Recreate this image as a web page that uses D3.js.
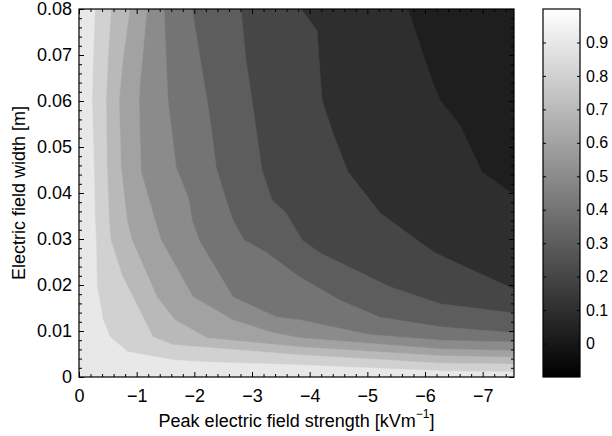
<!DOCTYPE html>
<html><head><meta charset="utf-8">
<script src="https://cdn.jsdelivr.net/npm/d3@7"></script>
<style>
body{margin:0;background:#fff;}
text{font-family:"Liberation Sans",Arial,Helvetica,sans-serif;fill:#000;}
</style>
</head><body>
<svg id="chart" width="612" height="436"></svg>
<script>
// ---- data (field strength in kV/m, width in m) ----
const levels = [0.1, 0.2, 0.3, 0.4, 0.5, 0.6, 0.7, 0.8, 0.9];
const dataMin = 0.03;
const xTicks = [0, -1, -2, -3, -4, -5, -6, -7];
const yTicks = [0, 0.01, 0.02, 0.03, 0.04, 0.05, 0.06, 0.07, 0.08];
const cbTicks = [0, 0.1, 0.2, 0.3, 0.4, 0.5, 0.6, 0.7, 0.8, 0.9];

// contour lines [field strength, width], each from top edge to right edge
const c010 = [[-5.705,0.08],[-6.138,0.0639],[-6.26,0.0602],[-6.607,0.0548],[-6.988,0.0446],[-7.543,0.0396]];
const c020 = [[-3.85,0.08],[-4.127,0.0754],[-4.214,0.0602],[-4.404,0.053],[-4.664,0.0446],[-5.219,0.0357],[-5.861,0.0298],[-6.173,0.027],[-7.543,0.0191]];
const c030 = [[-2.809,0.08],[-2.896,0.0689],[-3.0,0.0602],[-3.173,0.045],[-3.347,0.0385],[-3.589,0.0357],[-3.867,0.0298],[-4.179,0.027],[-5.393,0.0196],[-6.26,0.0159],[-7.543,0.0139]];
const c040 = [[-1.959,0.08],[-2.22,0.0602],[-2.306,0.053],[-2.376,0.0457],[-2.549,0.0385],[-2.67,0.0341],[-2.861,0.0298],[-3.26,0.027],[-3.832,0.0217],[-4.526,0.0167],[-5.219,0.013],[-6.26,0.0109],[-7.543,0.0096]];
const c050 = [[-1.474,0.08],[-1.543,0.0602],[-1.682,0.0457],[-1.907,0.0385],[-1.959,0.0341],[-2.081,0.0298],[-2.67,0.0174],[-3.433,0.013],[-3.832,0.0124],[-5.046,0.0092],[-6.26,0.008],[-7.543,0.0076]];
const c060 = [[-1.179,0.08],[-1.058,0.0639],[-1.04,0.0602],[-1.075,0.0446],[-1.318,0.0341],[-1.422,0.0298],[-1.977,0.0174],[-2.67,0.0124],[-3.364,0.0096],[-3.832,0.0085],[-6.26,0.0061],[-7.543,0.0057]];
const c070 = [[-0.879,0.08],[-0.76,0.0689],[-0.694,0.0602],[-0.728,0.0457],[-0.832,0.0341],[-0.919,0.0298],[-1.352,0.0174],[-1.665,0.0124],[-2.22,0.0085],[-3.832,0.0065],[-6.26,0.0046],[-7.543,0.0043]];
const c080 = [[-0.555,0.08],[-0.5,0.0689],[-0.468,0.0602],[-0.486,0.0457],[-0.52,0.0341],[-0.55,0.0298],[-0.75,0.022],[-0.936,0.0174],[-1.283,0.0087],[-1.63,0.007],[-3.832,0.0048],[-6.26,0.003],[-7.543,0.0028]];
const c090 = [[-0.277,0.08],[-0.243,0.0689],[-0.225,0.0602],[-0.26,0.045],[-0.277,0.0341],[-0.295,0.0298],[-0.312,0.0196],[-0.416,0.0124],[-0.538,0.0087],[-0.84,0.0055],[-1.63,0.0037],[-2.08,0.0033],[-3.832,0.0026],[-6.26,0.0013],[-7.543,0.0011]];
const contourLines = [c010, c020, c030, c040, c050, c060, c070, c080, c090];

const xDomain = [0, -7.543];
const yDomain = [0, 0.08];
const cDomain = [-0.1, 1.0];

// ---- layout ----
const L = 79, R = 514, T = 9, B = 377;
const svg = d3.select("#chart");
const x = d3.scaleLinear().domain(xDomain).range([L, R]);
const y = d3.scaleLinear().domain(yDomain).range([B, T]);
const gray = d3.scaleLinear().domain(cDomain).range(["#000000", "#ffffff"]);

svg.append("clipPath").attr("id", "plotclip").append("rect")
  .attr("x", L).attr("y", T).attr("width", R - L).attr("height", B - T);

const plot = svg.append("g").attr("clip-path", "url(#plotclip)");
plot.append("rect").attr("x", L).attr("y", T).attr("width", R - L).attr("height", B - T)
  .attr("fill", gray(dataMin));

const line = d3.line().x(d => x(d[0])).y(d => y(d[1]));
contourLines.forEach((c, i) => {
  const poly = [[0, yDomain[1]], ...c, [xDomain[1], 0], [0, 0]];
  plot.append("path").attr("d", line(poly) + "Z")
    .attr("fill", gray(levels[i])).attr("stroke", gray(levels[i])).attr("stroke-width", 0.5);
});

// ---- axes ----
const xMinor = d3.range(0, 38).map(i => -i * 0.2).filter(v => v >= -7.54 && Math.abs(v - Math.round(v)) > 1e-6);
const yMinor = d3.range(0, 41).map(i => i * 0.002).filter(v => Math.abs(v * 100 - Math.round(v * 100)) > 1e-6);

function styleAxis(g) {
  g.select(".domain").remove();
  g.selectAll("line").attr("stroke", "#000").attr("stroke-width", 1);
  g.selectAll("text").style("font-size", "18px").attr("fill", "#000");
}
const fmtX = d => d === 0 ? "0" : "\u2212" + Math.abs(d);
const fmtY = d => d === 0 ? "0" : d3.format(".2f")(d);

svg.append("g").attr("transform", `translate(0,${B})`)
  .call(d3.axisBottom(x).tickValues(xTicks).tickFormat(fmtX).tickSize(-5).tickPadding(12)).call(styleAxis);
svg.append("g").attr("transform", `translate(0,${B})`)
  .call(d3.axisBottom(x).tickValues(xMinor).tickFormat("").tickSize(-3)).call(styleAxis);
svg.append("g").attr("transform", `translate(0,${T})`)
  .call(d3.axisTop(x).tickValues(xTicks).tickFormat("").tickSize(-5)).call(styleAxis);
svg.append("g").attr("transform", `translate(0,${T})`)
  .call(d3.axisTop(x).tickValues(xMinor).tickFormat("").tickSize(-3)).call(styleAxis);

svg.append("g").attr("transform", `translate(${L},0)`)
  .call(d3.axisLeft(y).tickValues(yTicks).tickFormat(fmtY).tickSize(-5).tickPadding(7)).call(styleAxis);
svg.append("g").attr("transform", `translate(${L},0)`)
  .call(d3.axisLeft(y).tickValues(yMinor).tickFormat("").tickSize(-3)).call(styleAxis);
svg.append("g").attr("transform", `translate(${R},0)`)
  .call(d3.axisRight(y).tickValues(yTicks).tickFormat("").tickSize(-5)).call(styleAxis);
svg.append("g").attr("transform", `translate(${R},0)`)
  .call(d3.axisRight(y).tickValues(yMinor).tickFormat("").tickSize(-3)).call(styleAxis);

svg.append("rect").attr("x", L).attr("y", T).attr("width", R - L).attr("height", B - T)
  .attr("fill", "none").attr("stroke", "#000").attr("stroke-width", 1.2);

// axis titles
const xt = svg.append("text").attr("x", (L + R) / 2).attr("y", 426.5)
  .attr("text-anchor", "middle").style("font-size", "18px");
xt.append("tspan").text("Peak electric field strength [kVm");
xt.append("tspan").attr("dy", -9).style("font-size", "12px").text("\u22121");
xt.append("tspan").attr("dy", 9).text("]");

svg.append("text").attr("transform", `translate(25,${(T + B) / 2}) rotate(-90)`)
  .attr("text-anchor", "middle").style("font-size", "18px").text("Electric field width [m]");

// ---- colorbar ----
const CL = 543, CR = 580;
const cy = d3.scaleLinear().domain(cDomain).range([B, T]);
const grad = svg.append("defs").append("linearGradient").attr("id", "cbgrad")
  .attr("x1", 0).attr("y1", 1).attr("x2", 0).attr("y2", 0);
grad.append("stop").attr("offset", "0%").attr("stop-color", gray(cDomain[0]));
grad.append("stop").attr("offset", "100%").attr("stop-color", gray(cDomain[1]));
svg.append("rect").attr("x", CL).attr("y", T).attr("width", CR - CL).attr("height", B - T)
  .attr("fill", "url(#cbgrad)");

const cbAxisR = svg.append("g").attr("transform", `translate(${CR},0)`)
  .call(d3.axisRight(cy).tickValues(cbTicks).tickFormat(d => d === 0 ? "0" : d3.format(".1f")(d)).tickSize(-3).tickPadding(6));
cbAxisR.select(".domain").remove();
cbAxisR.selectAll("line").attr("stroke", "#000");
cbAxisR.selectAll("text").style("font-size", "16px").attr("fill", "#000");
const cbAxisL = svg.append("g").attr("transform", `translate(${CL},0)`)
  .call(d3.axisLeft(cy).tickValues(cbTicks).tickFormat("").tickSize(-3));
cbAxisL.select(".domain").remove();
cbAxisL.selectAll("line").attr("stroke", "#000");
svg.append("rect").attr("x", CL).attr("y", T).attr("width", CR - CL).attr("height", B - T)
  .attr("fill", "none").attr("stroke", "#000").attr("stroke-width", 1.2);
</script>
</body></html>
